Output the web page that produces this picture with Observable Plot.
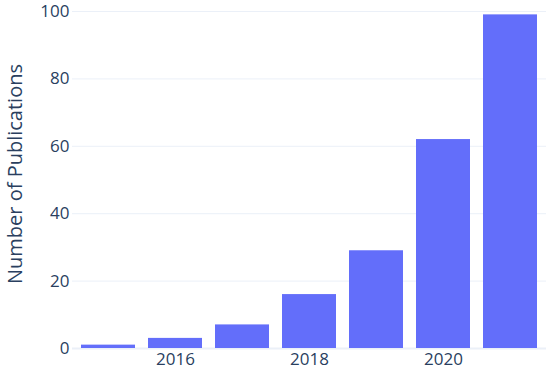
<!DOCTYPE html>
<html>
<head>
<meta charset="utf-8">
<script src="https://cdn.jsdelivr.net/npm/d3@7"></script>
<script src="https://cdn.jsdelivr.net/npm/@observablehq/plot@0.6"></script>
<style>
  html, body { margin: 0; padding: 0; background: #fff; }
  #chart svg { display: block; }
</style>
</head>
<body>
<div id="chart"></div>
<script>
const years = [2015, 2016, 2017, 2018, 2019, 2020, 2021];
const publications = [1, 3, 7, 16, 29, 62, 99];
const xTicks = [2016, 2018, 2020];
const yTicks = [0, 20, 40, 60, 80, 100];
const yTitle = "Number of Publications";

const data = years.map((year, i) => ({year, count: publications[i]}));

const chart = Plot.plot({
  width: 550,
  height: 371,
  marginLeft: 72,
  marginRight: 4,
  marginTop: 11,
  marginBottom: 23,
  style: {fontFamily: "'Open Sans', sans-serif", fontSize: "17px", color: "#2a3f5f", background: "#fff"},
  x: {type: "band", domain: years, paddingInner: 0.2, paddingOuter: 0.1, align: 0.5},
  y: {domain: [0, 100]},
  marks: [
    Plot.gridY(yTicks, {stroke: "#ebf0f8", strokeOpacity: 1, strokeWidth: 1}),
    Plot.ruleY([0], {stroke: "#ebf0f8", strokeWidth: 2}),
    Plot.barY(data, {x: "year", y: "count", fill: "#636efa"}),
    Plot.axisY({ticks: yTicks, tickSize: 0, tickPadding: 3, tickFormat: d => String(d), label: null, fill: "#2a3f5f"}),
    Plot.axisX({ticks: xTicks, tickSize: 0, tickPadding: 4, tickFormat: d => String(d), label: null, fill: "#2a3f5f"}),
    Plot.text([yTitle], {frameAnchor: "left", text: d => d, rotate: -90, dx: -57, dy: -6, fontSize: 20, fill: "#2a3f5f", textAnchor: "middle"})
  ]
});
document.getElementById("chart").appendChild(chart);
</script>
</body>
</html>
